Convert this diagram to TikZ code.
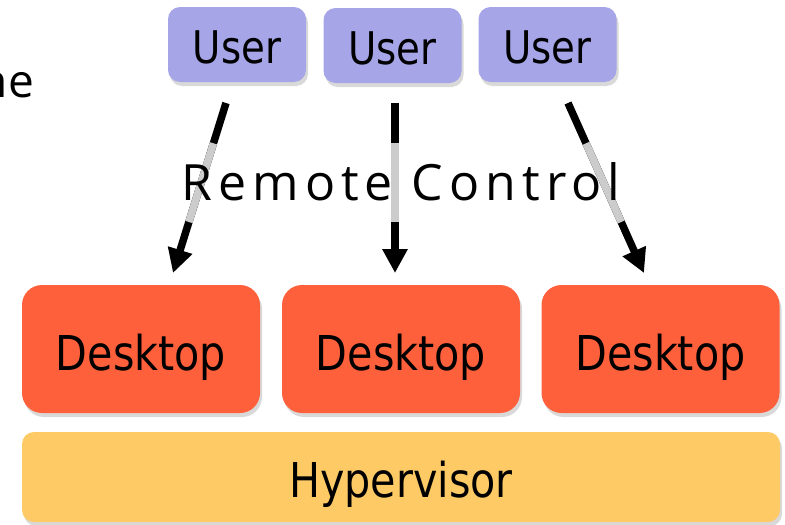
\documentclass[tikz,border=0pt]{standalone}
\usepackage{fontspec}
\setmainfont[FakeStretch=0.86]{DejaVu Sans}
\newfontfamily\rcfont[LetterSpace=12]{Open Sans}
\newfontfamily\osfont{Open Sans}
\usetikzlibrary{arrows.meta,shadows}
\definecolor{userc}{RGB}{165,165,232}
\definecolor{deskc}{RGB}{255,96,60}
\definecolor{hypc}{RGB}{254,202,102}
\definecolor{segc}{RGB}{204,204,204}
\tikzset{
  box/.style={draw=none, inner sep=0pt, text=black, text depth=0pt,
    drop shadow={shadow xshift=2pt, shadow yshift=-4pt, opacity=0.3}},
  userbox/.style={box, fill=userc, rounded corners=12pt, minimum width=138pt, minimum height=75pt,
    text height=37pt, font=\fontsize{45}{50}\selectfont},
  deskbox/.style={box, fill=deskc, rounded corners=20pt, minimum width=238pt, minimum height=128pt,
    text height=42pt, font=\fontsize{48}{50}\selectfont},
  hypbox/.style={box, fill=hypc, rounded corners=12pt, minimum width=758pt, minimum height=90pt,
    text height=40pt, font=\fontsize{48}{50}\selectfont},
  arr/.style={line width=7.5pt, -{Triangle[width=24pt,length=24pt]}},
  grayseg/.style={line width=7.5pt, segc}
}
\begin{document}
\begin{tikzpicture}[x=1pt,y=-1pt]
\useasboundingbox (0,0) rectangle (785,525);
% left partial text
\node[anchor=base east, inner sep=0pt, font=\osfont\fontsize{46}{50}\selectfont] (ne) at (34,97) {ne};
% users
\node[userbox] (u1) at (237,44.5) {User};
\node[userbox] (u2) at (392.5,45.5) {User};
\node[userbox] (u3) at (547.5,44.5) {User};
% desktops
\node[deskbox] (d1) at (141,349) {Desktop};
\node[deskbox] (d2) at (401,349) {Desktop};
\node[deskbox] (d3) at (660.5,349) {Desktop};
% hypervisor
\node[hypbox] (h) at (401,477) {Hypervisor};
% arrows
\coordinate (s1) at (226,103); \coordinate (t1) at (173,273);
\coordinate (s2) at (395,103); \coordinate (t2) at (395,273);
\coordinate (s3) at (568,103); \coordinate (t3) at (644,273);
\foreach \i in {1,2,3}{
  \draw[arr] (s\i) -- (t\i);
  \path (s\i) -- (t\i) coordinate[pos=0.237] (ga\i) coordinate[pos=0.70] (gb\i);
  \draw[grayseg] (ga\i) -- (gb\i);
}
% label
\node[anchor=base, inner sep=0pt, font=\rcfont\fontsize{50}{60}\selectfont] (rc) at (401,200) {Remote Control};
\end{tikzpicture}
\end{document}
